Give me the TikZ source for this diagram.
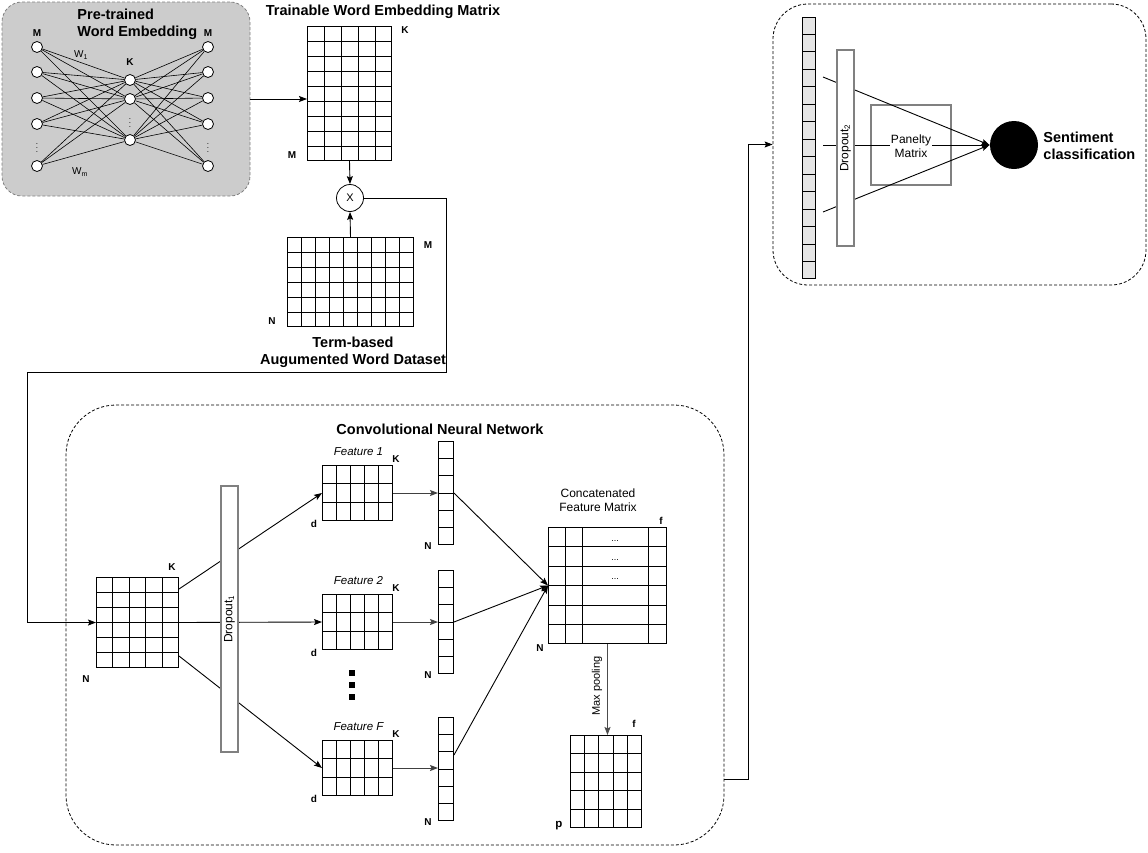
\documentclass[tikz,border=0pt]{standalone}
\usepackage{fontspec}
\setmainfont{Liberation Sans}
\usetikzlibrary{calc,positioning,arrows.meta}

\tikzset{
  arr/.style={-{Stealth[length=8pt,width=6pt,inset=1.5pt]}},
  headline/.style={font=\bfseries\fontsize{14.5}{17}\selectfont,align=center,inner sep=0pt},
  dimlabel/.style={font=\bfseries\fontsize{10}{11}\selectfont,inner sep=0pt},
  plain/.style={font=\fontsize{12}{14}\selectfont,align=center,inner sep=0pt},
  featlabel/.style={font=\itshape\fontsize{11.5}{13}\selectfont,inner sep=0pt},
  matbox/.style={rectangle,draw=black,line width=1pt,inner sep=0pt,anchor=north west},
  neuron/.style={circle,draw=black,fill=white,line width=0.8pt,minimum size=11pt,inner sep=0pt},
  dropbox/.style={rectangle,draw=gray,fill=white,line width=1.5pt,inner sep=0pt,minimum height=17pt,font=\fontsize{12}{14}\selectfont},
  dashbox/.style={rectangle,draw=black,dash pattern=on 3pt off 2pt,line width=0.8pt,inner sep=0pt},
}

%% grid lines inside a matrix node: name, columns, rows
\newcommand{\matgrid}[3]{%
  \pgfmathtruncatemacro{\lastcol}{#2-1}%
  \pgfmathtruncatemacro{\lastrow}{#3-1}%
  \ifnum#2>1
    \foreach \cc in {1,...,\lastcol}
      \draw ($(#1.north west)!\cc/#2!(#1.north east)$) -- ($(#1.south west)!\cc/#2!(#1.south east)$);
  \fi
  \foreach \rr in {1,...,\lastrow}
    \draw ($(#1.north west)!\rr/#3!(#1.south west)$) -- ($(#1.north east)!\rr/#3!(#1.south east)$);
}

\begin{document}
\begin{tikzpicture}[x=1pt,y=-1pt,line width=0.9pt]

  \useasboundingbox (0,0) rectangle (1148,852);

  %% pre-trained embedding network
  \node (pre) [dashbox,draw=gray,fill=gray!40,rounded corners=20pt,minimum width=248pt,minimum height=194pt] at (126,99) {};
  \node (pre_title) [headline,align=left,anchor=west] at (77,24) {Pre-trained\\Word Embedding};

  \foreach \n/\y in {1/47,2/72,3/98,4/124,5/166}
           {
             \node (in_\n) [neuron] at (37,\y) {};
             \node (out_\n) [neuron] at (208,\y) {};
           }
  \foreach \n/\y in {1/80,2/99,3/140}
           \node (hid_\n) [neuron] at (130,\y) {};

  \foreach \i in {1,...,5}
    \foreach \j in {1,...,3}
           {
             \draw[line width=0.6pt] (in_\i) -- (hid_\j);
             \draw[line width=0.6pt] (hid_\j) -- (out_\i);
           }

  \node (in_dots) [font=\fontsize{8}{8}\selectfont] at (37,145) {$\vdots$};
  \node (out_dots) [font=\fontsize{8}{8}\selectfont] at (208,145) {$\vdots$};
  \node (hid_dots) [font=\fontsize{8}{8}\selectfont] at (130,120) {$\vdots$};
  \node (in_lab) [dimlabel] at (37,33) {M};
  \node (out_lab) [dimlabel] at (208,33) {M};
  \node (hid_lab) [dimlabel] at (130,62) {K};
  \node (w_first) [font=\fontsize{10}{10}\selectfont,inner sep=0pt] at (81,55) {W\textsubscript{1}};
  \node (w_last) [font=\fontsize{10}{10}\selectfont,inner sep=0pt] at (80,172) {W\textsubscript{m}};

  %% trainable embedding matrix and term-based data
  \node (twe_title) [headline] at (383,12) {Trainable Word Embedding Matrix};
  \node (twe) [matbox,minimum width=84pt,minimum height=134pt] at (307,26) {};
  \matgrid{twe}{5}{9}
  \node (twe_k) [dimlabel] at (405,30) {K};
  \node (twe_m) [dimlabel] at (292,155) {M};

  \node (mult) [circle,draw=black,line width=0.8pt,minimum size=27pt,inner sep=0pt,font=\fontsize{11}{11}\selectfont] at (350,198) {X};

  \node (taw) [matbox,minimum width=126pt,minimum height=89pt] at (287,237) {};
  \matgrid{taw}{9}{6}
  \node (taw_m) [dimlabel] at (428,245) {M};
  \node (taw_n) [dimlabel] at (272,321) {N};
  \node (taw_title) [headline] at (353,352) {Term-based\\Augumented Word Dataset};

  \draw[arr] (pre.east) -- (pre.east -| twe.west);
  \draw[arr] (twe.south) -- (mult.north);
  \draw[arr] (taw.north) -- (mult.south);

  %% convolutional part
  \node (cnn) [dashbox,rounded corners=50pt,minimum width=658pt,minimum height=440pt] at (395,625) {};
  \node (cnn_title) [headline] at (440,429) {Convolutional Neural Network};

  \coordinate (c1) at (446,372);
  \coordinate (c2) at (27,372);

  \node (inmat) [matbox,minimum width=82pt,minimum height=90pt] at (96,577) {};
  \matgrid{inmat}{5}{6}
  \node (inmat_k) [dimlabel] at (172,567) {K};
  \node (inmat_n) [dimlabel] at (86,679) {N};

  \draw[arr] (mult.east) -| (c1) -- (c2) |- (inmat.west);

  \foreach \fid/\y/\v/\ftext in {1/465/441/Feature 1,2/594/570/Feature 2,F/740/717/Feature F}
           {
             \node (feat\fid) [matbox,minimum width=70pt,minimum height=55pt] at (322,\y) {};
             \matgrid{feat\fid}{5}{3}
             \node (feat\fid_title) [featlabel] at ($(feat\fid.north)+(1,-13)$) {\ftext};
             \node (feat\fid_k) [dimlabel] at ($(feat\fid.north east)+(3,-6)$) {K};
             \node (feat\fid_d) [dimlabel] at ($(feat\fid.south west)+(-8,3)$) {d};

             \node (vec\fid) [matbox,minimum width=15pt,minimum height=103pt] at (438,\v) {};
             \matgrid{vec\fid}{1}{6}
             \node (vec\fid_n) [dimlabel] at ($(vec\fid.south west)+(-10,1)$) {N};

             \draw[arr,draw=black!75] (feat\fid.east) -- (feat\fid.east -| vec\fid.west);
           }

  \draw[arr] ($(inmat.north east)+(0,12)$) -- (feat1.west);
  \draw[arr] (inmat.east) -- (feat2.west);
  \draw[arr] ($(inmat.south east)+(0,-12)$) -- (featF.west);

  \node (drop1) [dropbox,rotate=90,minimum width=266pt] at (229.5,619) {Dropout\textsubscript{1}};

  \foreach \k/\y in {1/673,2/685,3/697}
           \node (more_\k) [rectangle,fill=black,minimum size=6pt,inner sep=0pt] at (352,\y) {};

  %% concatenation and pooling
  \node (concat_title) [plain] at (598,500) {Concatenated\\Feature Matrix};
  \node (concat) [matbox,minimum width=118pt,minimum height=116pt] at (548,527) {};
  \foreach \xx in {17,34,100}
           \draw ($(concat.north west)+(\xx,0)$) -- ($(concat.south west)+(\xx,0)$);
  \foreach \rr in {1,...,5}
           \draw ($(concat.north west)!\rr/6!(concat.south west)$) -- ($(concat.north east)!\rr/6!(concat.south east)$);
  \foreach \k/\y in {1/14,2/33,3/52}
           \node (concat_dots_\k) [font=\fontsize{9}{9}\selectfont,inner sep=0pt] at ($(concat.north west)+(67,\y)$) {...};
  \node (concat_f) [dimlabel] at (661,521) {f};
  \node (concat_n) [dimlabel] at (540,648) {N};

  \draw[arr] (vec1.east) -- (concat.west);
  \draw[arr] (vec2.east) -- (concat.west);
  \draw[arr] ($(vecF.east)+(0,-14)$) -- (concat.west);

  \node (pool) [matbox,minimum width=71pt,minimum height=92pt] at (570,735) {};
  \matgrid{pool}{5}{5}
  \node (pool_f) [dimlabel] at (634,724) {f};
  \node (pool_p) [font=\bfseries\fontsize{11.5}{12}\selectfont,inner sep=0pt] at (559,826) {p};

  \draw[arr,draw=black!70] (concat.south) -- (concat.south |- pool.north);
  \node (pool_label) [font=\fontsize{11}{11}\selectfont,rotate=90,inner sep=0pt] at (597,686) {Max pooling};

  %% classification part
  \node (top) [dashbox,rounded corners=35pt,minimum width=373pt,minimum height=281pt] at (959.5,144.5) {};

  \coordinate (cnnout) at (724,779);
  \draw[arr] (cnnout) -| ($(cnnout)!0.5!(top.west)$) |- (top.west);

  \node (fvec) [matbox,fill=gray!20,minimum width=13pt,minimum height=261pt] at (802,17) {};
  \matgrid{fvec}{1}{15}

  \node (sent) [circle,fill=black,minimum size=48pt,inner sep=0pt] at (1014,145) {};
  \node (pen) [rectangle,draw=gray,line width=1.2pt,minimum width=80pt,minimum height=80pt] at (911,145) {};

  \coordinate (fc_1) at (823,77);
  \coordinate (fc_2) at (823,145);
  \coordinate (fc_3) at (823,212);
  \foreach \k in {1,2,3}
           \draw[arr] (fc_\k) -- (sent.west);

  \node (pen_text) [plain,fill=white,inner sep=1pt] at (911,146) {Panelty\\Matrix};
  \node (drop2) [dropbox,rotate=90,minimum width=196pt] at (845.5,148) {Dropout\textsubscript{2}};
  \node (sent_text) [headline,align=left,anchor=west] at (1043,146) {Sentiment\\classification};

\end{tikzpicture}
\end{document}
